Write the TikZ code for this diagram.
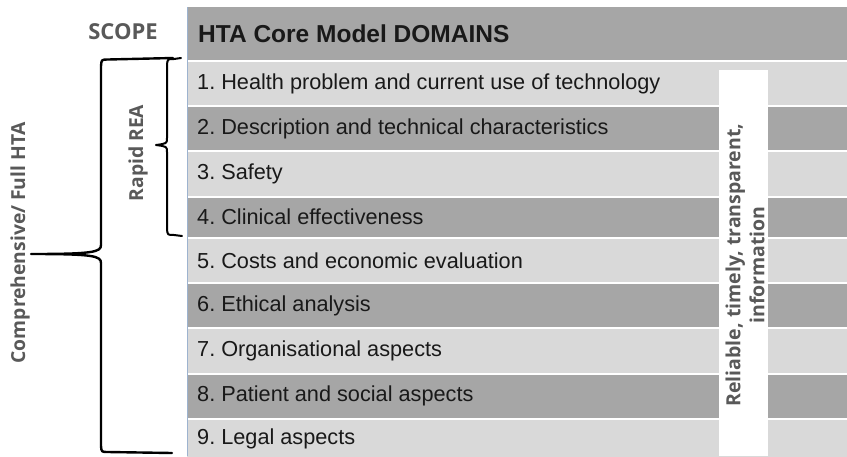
\documentclass[tikz,border=0pt]{standalone}
\usepackage{fontspec}
\setmainfont{Liberation Sans}
\newfontfamily\osans{Open Sans}
\definecolor{hdrfill}{HTML}{A6A6A6}
\definecolor{ltfill}{HTML}{D9D9D9}
\definecolor{dkfill}{HTML}{A6A6A6}
\definecolor{lblgray}{HTML}{595959}
\definecolor{edgeblue}{HTML}{9DB3CF}
\frenchspacing
\tikzset{
  rowtext/.style={anchor=west, inner sep=0pt, text=black!90, font=\fontsize{21.7}{24}\selectfont},
  hdrtext/.style={anchor=west, inner sep=0pt, text=black!90, font=\fontsize{24.5}{28}\selectfont\bfseries},
  sidelbl/.style={inner sep=0pt, text=lblgray, font=\osans\fontsize{19.3}{24}\selectfont\bfseries},
  bracepath/.style={draw=black, line width=2.4pt, line cap=round, line join=round},
}
\begin{document}
\begin{tikzpicture}[x=1pt,y=-1pt]
\useasboundingbox (0,0) rectangle (847,456);
\fill[white] (0,0) rectangle (847,456);
% header
\fill[hdrfill] (187,7) rectangle (847,60);
\node[hdrtext] (hdr) at (198,34) {HTA Core Model DOMAINS};
% rows
\foreach \t/\b/\c/\s [count=\i] in {
  62/105/ltfill/{1. Health problem and current use of technology},
  107/150/dkfill/{2. Description and technical characteristics},
  152/195.7/ltfill/{3. Safety},
  197.7/236.7/dkfill/{4. Clinical effectiveness},
  238.7/282/ltfill/{5. Costs and economic evaluation},
  284/327/dkfill/{6. Ethical analysis},
  329/372.7/ltfill/{7. Organisational aspects},
  374.7/417.7/dkfill/{8. Patient and social aspects},
  419.7/458/ltfill/{9. Legal aspects}} {
  \fill[\c] (187,\t) rectangle (847,\b);
  \node[rowtext] (row\i) at (197,{(\t+\b)/2}) {\s};
}
% white column
\fill[white] (719,70) rectangle (768,456);
\node[sidelbl, rotate=90, align=center, font=\osans\fontsize{19.5}{24}\selectfont\bfseries] (qual) at (745,265) {Reliable, timely, transparent,\\information};
% left edge
\draw[edgeblue, line width=0.8pt] (187,7) -- (187,456);
% labels
\node[sidelbl, font=\osans\fontsize{22}{24}\selectfont\bfseries] (scope) at (123,32) {SCOPE};
\node[sidelbl, rotate=90] (rapid) at (138,153) {Rapid REA};
\node[sidelbl, rotate=90] (full) at (20,243) {Comprehensive/ Full HTA};
% big brace
\path[bracepath] (173,58) -- (108,59.5) .. controls (101.5,59.5) .. (101,66) -- (101,245)
  .. controls (101,252) and (94,254) .. (31,254)
  .. controls (94,254) and (101,256) .. (101,263) -- (101,446)
  .. controls (101.5,452) .. (108,452) -- (172,453);
% small brace
\path[bracepath, line width=2pt] (181,58) -- (174,59) .. controls (167.5,59) .. (167,65) -- (167,138)
  .. controls (167,143.5) .. (156,145)
  .. controls (167,146.5) .. (167,152) -- (167,229)
  .. controls (167.5,235) .. (174,235) -- (182,236);
\end{tikzpicture}
\end{document}
